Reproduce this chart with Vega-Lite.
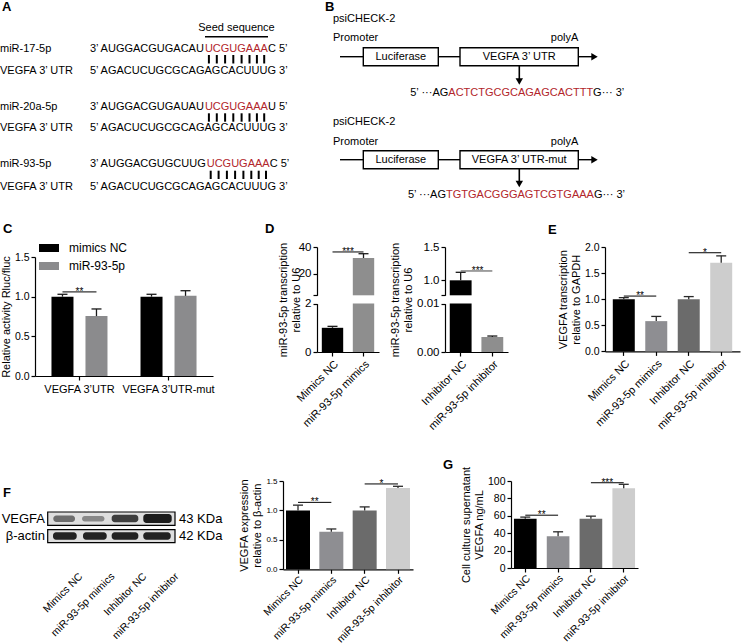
{
  "$schema": "https://vega.github.io/schema/vega-lite/v6.json",
  "background": "white",
  "padding": 0,
  "columns": 7,
  "spacing": 0,
  "bounds": "flush",
  "align": "each",
  "resolve": {"scale": {"x": "independent", "y": "independent", "color": "independent", "opacity": "independent", "shape": "independent"}},
  "config": {
    "font": "Liberation Sans",
    "view": {"stroke": null},
    "axis": {"domainColor": "#000", "domainWidth": 1.2, "tickColor": "#000", "tickWidth": 1.2, "tickSize": 4, "labelColor": "#000", "titleColor": "#000", "labelFontSize": 11, "titleFontSize": 11, "titleFontWeight": "normal", "grid": false, "labelPadding": 2, "titlePadding": 3},
    "title": {"color": "#000"}
  },
  "datasets": {
    "AB_left": [
      {"x": 0, "y": 49.3, "text": "miR-17-5p", "tone": "plain"},
      {"x": 90, "y": 49.3, "text": "3’ AUGGACGUGACAU", "tone": "plain"},
      {"x": 204.9, "y": 49.3, "text": "UCGUGAAA", "tone": "seed"},
      {"x": 267.9, "y": 49.3, "text": "C 5’", "tone": "plain"},
      {"x": 0, "y": 71, "text": "VEGFA 3’ UTR", "tone": "plain"},
      {"x": 90, "y": 71, "text": "5’ AGACUCUGCGCAGAGCACUUUG 3’", "tone": "plain"},
      {"x": 0, "y": 107.3, "text": "miR-20a-5p", "tone": "plain"},
      {"x": 90, "y": 107.3, "text": "3’ AUGGACGUGAUAU", "tone": "plain"},
      {"x": 204.9, "y": 107.3, "text": "UCGUGAAA", "tone": "seed"},
      {"x": 267.9, "y": 107.3, "text": "U 5’", "tone": "plain"},
      {"x": 0, "y": 128.3, "text": "VEGFA 3’ UTR", "tone": "plain"},
      {"x": 90, "y": 128.3, "text": "5’ AGACUCUGCGCAGAGCACUUUG 3’", "tone": "plain"},
      {"x": 0, "y": 164.3, "text": "miR-93-5p", "tone": "plain"},
      {"x": 90, "y": 164.3, "text": "3’ AUGGACGUGCUUG", "tone": "plain"},
      {"x": 206.7, "y": 164.3, "text": "UCGUGAAA", "tone": "seed"},
      {"x": 269.7, "y": 164.3, "text": "C 5’", "tone": "plain"},
      {"x": 0, "y": 186.7, "text": "VEGFA 3’ UTR", "tone": "plain"},
      {"x": 90, "y": 186.7, "text": "5’ AGACUCUGCGCAGAGCACUUUG 3’", "tone": "plain"},
      {"x": 333, "y": 19.3, "text": "psiCHECK-2", "tone": "plain"},
      {"x": 333, "y": 38.3, "text": "Promoter", "tone": "plain"},
      {"x": 448.3, "y": 92.7, "text": "ACTCTGCGCAGAGCACTTT", "tone": "seed"},
      {"x": 593.1, "y": 92.7, "text": "G··· 3’", "tone": "plain"},
      {"x": 333, "y": 122, "text": "psiCHECK-2", "tone": "plain"},
      {"x": 333, "y": 141.7, "text": "Promoter", "tone": "plain"},
      {"x": 446, "y": 195, "text": "TGTGACGGGAGTCGTGAAA", "tone": "seed"},
      {"x": 593.9, "y": 195, "text": "G··· 3’", "tone": "plain"}
    ],
    "AB_center": [
      {"x": 236.5, "y": 28.3, "text": "Seed sequence"},
      {"x": 400.8, "y": 56.7, "text": "Luciferase"},
      {"x": 519.2, "y": 56.7, "text": "VEGFA 3’ UTR"},
      {"x": 400.8, "y": 159.7, "text": "Luciferase"},
      {"x": 519.2, "y": 159.7, "text": "VEGFA 3’ UTR-mut"}
    ],
    "AB_right": [
      {"x": 578.3, "y": 38.3, "text": "polyA"},
      {"x": 448.3, "y": 92.7, "text": "5’ ···AG"},
      {"x": 578.3, "y": 141.7, "text": "polyA"},
      {"x": 446, "y": 195, "text": "5’ ···AG"}
    ],
    "AB_letters": [
      {"x": 2, "y": 7, "text": "A"},
      {"x": 325, "y": 7, "text": "B"},
      {"x": 3, "y": 229, "text": "C"},
      {"x": 265, "y": 229, "text": "D"},
      {"x": 548, "y": 230, "text": "E"}
    ],
    "AB_hlines": [
      {"x": 205, "x2": 268, "y": 36.7},
      {"x": 340, "x2": 363.3, "y": 56.7},
      {"x": 438.3, "x2": 460, "y": 56.7},
      {"x": 578.3, "x2": 592, "y": 56.7},
      {"x": 340, "x2": 363.3, "y": 159.7},
      {"x": 438.3, "x2": 460, "y": 159.7},
      {"x": 578.3, "x2": 592, "y": 159.7}
    ],
    "AB_stems": [
      {"x": 519.3, "y": 65.7, "y2": 80},
      {"x": 519.3, "y": 168.7, "y2": 182}
    ],
    "AB_pairs": [
      {"x": 208.9, "y": 55, "y2": 63.5}, {"x": 216.8, "y": 55, "y2": 63.5}, {"x": 225.1, "y": 55, "y2": 63.5}, {"x": 233.3, "y": 55, "y2": 63.5},
      {"x": 241.6, "y": 55, "y2": 63.5}, {"x": 249.5, "y": 55, "y2": 63.5}, {"x": 256.9, "y": 55, "y2": 63.5}, {"x": 264.2, "y": 55, "y2": 63.5},
      {"x": 208.9, "y": 113.3, "y2": 121.7}, {"x": 216.8, "y": 113.3, "y2": 121.7}, {"x": 225.1, "y": 113.3, "y2": 121.7}, {"x": 233.3, "y": 113.3, "y2": 121.7},
      {"x": 241.6, "y": 113.3, "y2": 121.7}, {"x": 249.5, "y": 113.3, "y2": 121.7}, {"x": 256.9, "y": 113.3, "y2": 121.7}, {"x": 264.2, "y": 113.3, "y2": 121.7},
      {"x": 210.7, "y": 170.7, "y2": 179}, {"x": 218.6, "y": 170.7, "y2": 179}, {"x": 226.9, "y": 170.7, "y2": 179}, {"x": 235.1, "y": 170.7, "y2": 179},
      {"x": 243.4, "y": 170.7, "y2": 179}, {"x": 251.3, "y": 170.7, "y2": 179}, {"x": 258.7, "y": 170.7, "y2": 179}, {"x": 266.0, "y": 170.7, "y2": 179}
    ],
    "AB_boxes": [
      {"x": 363.3, "x2": 438.3, "y": 47.7, "y2": 65.7},
      {"x": 460, "x2": 578.3, "y": 47.7, "y2": 65.7},
      {"x": 363.3, "x2": 438.3, "y": 150.7, "y2": 168.7},
      {"x": 460, "x2": 578.3, "y": 150.7, "y2": 168.7}
    ],
    "AB_heads": [
      {"x": 594.5, "y": 56.7, "dir": "right"},
      {"x": 519.3, "y": 81.5, "dir": "down"},
      {"x": 594.5, "y": 159.7, "dir": "right"},
      {"x": 519.3, "y": 184, "dir": "down"}
    ],
    "F_boxes": [
      {"x": 47.7, "x2": 175, "y": 31, "y2": 44.3},
      {"x": 47.7, "x2": 175, "y": 48.6, "y2": 61.6}
    ],
    "F_bands": [
      {"x": 53.3, "x2": 75, "y": 34.5, "y2": 41, "intensity": 0.55},
      {"x": 82, "x2": 104.5, "y": 35, "y2": 40.5, "intensity": 0.42},
      {"x": 111.7, "x2": 138.3, "y": 33.8, "y2": 41.3, "intensity": 0.78},
      {"x": 143.3, "x2": 171.7, "y": 33, "y2": 42, "intensity": 0.95},
      {"x": 53, "x2": 76.7, "y": 51.2, "y2": 58.8, "intensity": 0.92},
      {"x": 83, "x2": 106.7, "y": 51.2, "y2": 58.8, "intensity": 0.92},
      {"x": 111.7, "x2": 138.3, "y": 51.2, "y2": 58.8, "intensity": 0.92},
      {"x": 143.3, "x2": 170.7, "y": 51.2, "y2": 58.8, "intensity": 0.92}
    ],
    "F_right": [
      {"x": 45, "y": 37.6, "text": "VEGFA"},
      {"x": 45, "y": 55, "text": "β-actin"}
    ],
    "F_left": [
      {"x": 179, "y": 37.6, "text": "43 KDa"},
      {"x": 179, "y": 55, "text": "42 KDa"}
    ],
    "F_lanes": [
      {"x": 81, "y": 94, "text": "Mimics NC"},
      {"x": 113, "y": 94, "text": "miR-93-5p mimics"},
      {"x": 145, "y": 94, "text": "Inhibitor NC"},
      {"x": 177, "y": 94, "text": "miR-93-5p inhibitor"}
    ],
    "F_letter": [{"x": 3, "y": 11.8, "text": "F"}],
    "C_bars": [
      {"construct": "VEGFA 3’UTR", "treatment": "mimics NC", "value": 1.0, "upper": 1.03},
      {"construct": "VEGFA 3’UTR", "treatment": "miR-93-5p", "value": 0.755, "upper": 0.845},
      {"construct": "VEGFA 3’UTR-mut", "treatment": "mimics NC", "value": 1.0, "upper": 1.03},
      {"construct": "VEGFA 3’UTR-mut", "treatment": "miR-93-5p", "value": 1.01, "upper": 1.075}
    ],
    "C_sig": [{"construct": "VEGFA 3’UTR", "y": 1.06, "label": "**"}],
    "D_left": [
      {"group": "Mimics NC", "value": 1.0, "upper": 1.06},
      {"group": "miR-93-5p mimics", "value": 31.8, "upper": 35.0}
    ],
    "D_left_sig": [{"from": "Mimics NC", "to": "miR-93-5p mimics", "y": 36.3, "label": "***"}],
    "D_right": [
      {"group": "Inhibitor NC", "value": 1.0, "upper": 1.12},
      {"group": "miR-93-5p inhibitor", "value": 0.0031, "upper": 0.0033}
    ],
    "D_right_sig": [{"from": "Inhibitor NC", "to": "miR-93-5p inhibitor", "y": 1.14, "label": "***"}],
    "E": [
      {"group": "Mimics NC", "value": 1.0, "upper": 1.03},
      {"group": "miR-93-5p mimics", "value": 0.58, "upper": 0.67},
      {"group": "Inhibitor NC", "value": 1.0, "upper": 1.05},
      {"group": "miR-93-5p inhibitor", "value": 1.70, "upper": 1.83}
    ],
    "E_sig": [
      {"from": "Mimics NC", "to": "miR-93-5p mimics", "y": 1.06, "label": "**"},
      {"from": "Inhibitor NC", "to": "miR-93-5p inhibitor", "y": 1.89, "label": "*"}
    ],
    "F": [
      {"group": "Mimics NC", "value": 1.0, "upper": 1.09},
      {"group": "miR-93-5p mimics", "value": 0.64, "upper": 0.685},
      {"group": "Inhibitor NC", "value": 1.0, "upper": 1.06},
      {"group": "miR-93-5p inhibitor", "value": 1.38, "upper": 1.41}
    ],
    "F_sig": [
      {"from": "Mimics NC", "to": "miR-93-5p mimics", "y": 1.137, "label": "**"},
      {"from": "Inhibitor NC", "to": "miR-93-5p inhibitor", "y": 1.45, "label": "*"}
    ],
    "G": [
      {"group": "Mimics NC", "value": 56.6, "upper": 58.5},
      {"group": "miR-93-5p mimics", "value": 36.5, "upper": 41.6},
      {"group": "Inhibitor NC", "value": 56.6, "upper": 59.6},
      {"group": "miR-93-5p inhibitor", "value": 91.6, "upper": 96.2}
    ],
    "G_sig": [
      {"from": "Mimics NC", "to": "miR-93-5p mimics", "y": 60.7, "label": "**"},
      {"from": "Inhibitor NC", "to": "miR-93-5p inhibitor", "y": 98, "label": "***"}
    ]
  },
  "concat": [
    {
      "width": 35, "height": 247,
      "layer": [
        {"data": {"name": "AB_boxes"}, "mark": {"type": "rect", "fill": "white", "stroke": "black", "strokeWidth": 1.4},
         "encoding": {"x": {"field": "x", "type": "quantitative", "scale": {"domain": [0, 743], "range": [0, 743], "nice": false, "zero": false}, "axis": null}, "x2": {"field": "x2"},
                      "y": {"field": "y", "type": "quantitative", "scale": {"domain": [0, 247], "nice": false, "zero": false, "reverse": true}, "axis": null}, "y2": {"field": "y2"}}},
        {"data": {"name": "AB_hlines"}, "mark": {"type": "rule", "color": "black", "strokeWidth": 1.4},
         "encoding": {"x": {"field": "x", "type": "quantitative", "scale": {"domain": [0, 743], "range": [0, 743], "nice": false, "zero": false}, "axis": null}, "x2": {"field": "x2"},
                      "y": {"field": "y", "type": "quantitative", "scale": {"domain": [0, 247], "nice": false, "zero": false, "reverse": true}, "axis": null}}},
        {"data": {"name": "AB_stems"}, "mark": {"type": "rule", "color": "black", "strokeWidth": 1.6},
         "encoding": {"x": {"field": "x", "type": "quantitative", "scale": {"domain": [0, 743], "range": [0, 743], "nice": false, "zero": false}, "axis": null},
                      "y": {"field": "y", "type": "quantitative", "scale": {"domain": [0, 247], "nice": false, "zero": false, "reverse": true}, "axis": null}, "y2": {"field": "y2"}}},
        {"data": {"name": "AB_pairs"}, "mark": {"type": "rule", "color": "black", "strokeWidth": 2},
         "encoding": {"x": {"field": "x", "type": "quantitative", "scale": {"domain": [0, 743], "range": [0, 743], "nice": false, "zero": false}, "axis": null},
                      "y": {"field": "y", "type": "quantitative", "scale": {"domain": [0, 247], "nice": false, "zero": false, "reverse": true}, "axis": null}, "y2": {"field": "y2"}}},
        {"data": {"name": "AB_heads"}, "mark": {"type": "point", "filled": true, "color": "black", "opacity": 1, "size": 55},
         "encoding": {"x": {"field": "x", "type": "quantitative", "scale": {"domain": [0, 743], "range": [0, 743], "nice": false, "zero": false}, "axis": null},
                      "y": {"field": "y", "type": "quantitative", "scale": {"domain": [0, 247], "nice": false, "zero": false, "reverse": true}, "axis": null},
                      "shape": {"field": "dir", "type": "nominal", "scale": {"domain": ["right", "down"], "range": ["triangle-right", "triangle-down"]}, "legend": null}}},
        {"data": {"name": "AB_left"}, "mark": {"type": "text", "align": "left", "baseline": "middle", "fontSize": 11},
         "encoding": {"x": {"field": "x", "type": "quantitative", "scale": {"domain": [0, 743], "range": [0, 743], "nice": false, "zero": false}, "axis": null},
                      "y": {"field": "y", "type": "quantitative", "scale": {"domain": [0, 247], "nice": false, "zero": false, "reverse": true}, "axis": null},
                      "text": {"field": "text"},
                      "color": {"field": "tone", "type": "nominal", "scale": {"domain": ["plain", "seed"], "range": ["#000000", "#b2262b"]}, "legend": null}}},
        {"data": {"name": "AB_center"}, "mark": {"type": "text", "align": "center", "baseline": "middle", "fontSize": 11, "color": "#000"},
         "encoding": {"x": {"field": "x", "type": "quantitative", "scale": {"domain": [0, 743], "range": [0, 743], "nice": false, "zero": false}, "axis": null},
                      "y": {"field": "y", "type": "quantitative", "scale": {"domain": [0, 247], "nice": false, "zero": false, "reverse": true}, "axis": null},
                      "text": {"field": "text"}}},
        {"data": {"name": "AB_right"}, "mark": {"type": "text", "align": "right", "baseline": "middle", "fontSize": 11, "color": "#000"},
         "encoding": {"x": {"field": "x", "type": "quantitative", "scale": {"domain": [0, 743], "range": [0, 743], "nice": false, "zero": false}, "axis": null},
                      "y": {"field": "y", "type": "quantitative", "scale": {"domain": [0, 247], "nice": false, "zero": false, "reverse": true}, "axis": null},
                      "text": {"field": "text"}}},
        {"data": {"name": "AB_letters"}, "mark": {"type": "text", "align": "left", "baseline": "middle", "fontSize": 13, "fontWeight": "bold", "color": "#000"},
         "encoding": {"x": {"field": "x", "type": "quantitative", "scale": {"domain": [0, 743], "range": [0, 743], "nice": false, "zero": false}, "axis": null},
                      "y": {"field": "y", "type": "quantitative", "scale": {"domain": [0, 247], "nice": false, "zero": false, "reverse": true}, "axis": null},
                      "text": {"field": "text"}}}
      ]
    },
    {"width": 248, "height": 0, "data": {"values": [{}]}, "mark": {"type": "point", "opacity": 0}, "encoding": {}},
    {"width": 34, "height": 0, "data": {"values": [{}]}, "mark": {"type": "point", "opacity": 0}, "encoding": {}},
    {"width": 128, "height": 0, "data": {"values": [{}]}, "mark": {"type": "point", "opacity": 0}, "encoding": {}},
    {"width": 66, "height": 0, "data": {"values": [{}]}, "mark": {"type": "point", "opacity": 0}, "encoding": {}},
    {"width": 94, "height": 0, "data": {"values": [{}]}, "mark": {"type": "point", "opacity": 0}, "encoding": {}},
    {"width": 138, "height": 0, "data": {"values": [{}]}, "mark": {"type": "point", "opacity": 0}, "encoding": {}},

    {"width": 35, "height": 233.7, "data": {"values": [{}]}, "mark": {"type": "point", "opacity": 0}, "encoding": {}},
    {
      "width": 248, "height": 129,
      "data": {"name": "C_bars"},
      "layer": [
        {"mark": {"type": "bar"},
         "encoding": {
           "x": {"field": "construct", "type": "nominal", "scale": {"domain": ["VEGFA 3’UTR", "VEGFA 3’UTR-mut"], "range": [0, 178], "paddingInner": 0.371, "paddingOuter": 0.185}, "axis": {"title": null, "labelAngle": 0, "labelFontSize": 11, "labelPadding": 3}},
           "xOffset": {"field": "treatment", "type": "nominal", "scale": {"domain": ["mimics NC", "miR-93-5p"], "paddingInner": 0.353, "paddingOuter": 0}},
           "y": {"field": "value", "type": "quantitative", "scale": {"domain": [0, 1.5], "range": [129, 10], "nice": false}, "axis": {"values": [0, 0.5, 1, 1.5], "format": ".1f", "title": "Relative activity Rluc/fluc", "labelFontSize": 10.5}},
           "color": {"field": "treatment", "type": "nominal", "scale": {"domain": ["mimics NC", "miR-93-5p"], "range": ["#000000", "#8b8b8d"]},
                     "legend": {"title": null, "orient": "none", "legendX": 8, "legendY": -5, "symbolType": "M-2,-0.8L2,-0.8L2,0.8L-2,0.8Z", "symbolSize": 100, "symbolStrokeWidth": 0, "symbolOpacity": 1, "labelFontSize": 12, "labelOffset": 14, "rowPadding": 6, "padding": 0}}
         }},
        {"mark": {"type": "rule", "color": "#1a1a1a", "strokeWidth": 1.3},
         "encoding": {
           "x": {"field": "construct", "type": "nominal", "scale": {"domain": ["VEGFA 3’UTR", "VEGFA 3’UTR-mut"], "range": [0, 178], "paddingInner": 0.371, "paddingOuter": 0.185}, "axis": {"title": null, "labelAngle": 0, "labelFontSize": 11, "labelPadding": 3}},
           "xOffset": {"field": "treatment", "type": "nominal", "scale": {"domain": ["mimics NC", "miR-93-5p"], "paddingInner": 0.353, "paddingOuter": 0}},
           "y": {"field": "value", "type": "quantitative", "scale": {"domain": [0, 1.5], "range": [129, 10], "nice": false}, "axis": {"values": [0, 0.5, 1, 1.5], "format": ".1f", "title": "Relative activity Rluc/fluc", "labelFontSize": 10.5}},
           "y2": {"field": "upper"}
         }},
        {"mark": {"type": "tick", "color": "#1a1a1a", "thickness": 1.3, "size": 10, "opacity": 1},
         "encoding": {
           "x": {"field": "construct", "type": "nominal", "scale": {"domain": ["VEGFA 3’UTR", "VEGFA 3’UTR-mut"], "range": [0, 178], "paddingInner": 0.371, "paddingOuter": 0.185}, "axis": {"title": null, "labelAngle": 0, "labelFontSize": 11, "labelPadding": 3}},
           "xOffset": {"field": "treatment", "type": "nominal", "scale": {"domain": ["mimics NC", "miR-93-5p"], "paddingInner": 0.353, "paddingOuter": 0}},
           "y": {"field": "upper", "type": "quantitative", "scale": {"domain": [0, 1.5], "range": [129, 10], "nice": false}, "axis": {"values": [0, 0.5, 1, 1.5], "format": ".1f", "title": "Relative activity Rluc/fluc", "labelFontSize": 10.5}}
         }},
        {"data": {"name": "C_sig"}, "mark": {"type": "rule", "color": "#000", "strokeWidth": 1, "xOffset": -17, "x2Offset": 17},
         "encoding": {
           "x": {"field": "construct", "type": "nominal", "scale": {"domain": ["VEGFA 3’UTR", "VEGFA 3’UTR-mut"], "range": [0, 178], "paddingInner": 0.371, "paddingOuter": 0.185}, "axis": {"title": null, "labelAngle": 0, "labelFontSize": 11, "labelPadding": 3}},
           "x2": {"field": "construct"},
           "y": {"field": "y", "type": "quantitative", "scale": {"domain": [0, 1.5], "range": [129, 10], "nice": false}, "axis": {"values": [0, 0.5, 1, 1.5], "format": ".1f", "title": "Relative activity Rluc/fluc", "labelFontSize": 10.5}}
         }},
        {"data": {"name": "C_sig"}, "mark": {"type": "text", "fontSize": 10, "baseline": "alphabetic", "dy": 3, "color": "#000"},
         "encoding": {
           "x": {"field": "construct", "type": "nominal", "scale": {"domain": ["VEGFA 3’UTR", "VEGFA 3’UTR-mut"], "range": [0, 178], "paddingInner": 0.371, "paddingOuter": 0.185}, "axis": {"title": null, "labelAngle": 0, "labelFontSize": 11, "labelPadding": 3}},
           "y": {"field": "y", "type": "quantitative", "scale": {"domain": [0, 1.5], "range": [129, 10], "nice": false}, "axis": {"values": [0, 0.5, 1, 1.5], "format": ".1f", "title": "Relative activity Rluc/fluc", "labelFontSize": 10.5}},
           "text": {"field": "label"}
         }}
      ]
    },
    {"width": 34, "height": 1, "data": {"values": [{}]}, "mark": {"type": "point", "opacity": 0}, "encoding": {}},
    {
      "width": 128, "height": 105,
      "data": {"name": "D_left"},
      "resolve": {"scale": {"y": "independent"}},
      "layer": [
        {"layer": [
          {"mark": {"type": "bar"},
           "encoding": {
             "x": {"field": "group", "type": "nominal", "scale": {"domain": ["Mimics NC", "miR-93-5p mimics"], "range": [0, 62], "paddingInner": 0.31, "paddingOuter": 0.155}, "axis": {"title": null, "labelAngle": -45}},
             "y": {"field": "value", "type": "quantitative", "scale": {"domain": [0, 2], "range": [105, 56.6], "nice": false, "clamp": true}, "axis": {"orient": "left", "values": [0, 1, 2], "format": "d", "title": ["miR-93-5p transcription", "relative to U6"], "titleY": 52.5, "labelFontSize": 11.5}},
             "color": {"field": "group", "type": "nominal", "scale": {"domain": ["Mimics NC", "miR-93-5p mimics"], "range": ["#000000", "#8e8e8e"]}, "legend": null}
           }},
          {"transform": [{"filter": "datum.upper < 2"}], "mark": {"type": "rule", "color": "#1a1a1a", "strokeWidth": 1.3},
           "encoding": {
             "x": {"field": "group", "type": "nominal", "scale": {"domain": ["Mimics NC", "miR-93-5p mimics"], "range": [0, 62], "paddingInner": 0.31, "paddingOuter": 0.155}, "axis": {"title": null, "labelAngle": -45}},
             "y": {"field": "value", "type": "quantitative", "scale": {"domain": [0, 2], "range": [105, 56.6], "nice": false, "clamp": true}, "axis": {"orient": "left", "values": [0, 1, 2], "format": "d", "title": ["miR-93-5p transcription", "relative to U6"], "titleY": 52.5, "labelFontSize": 11.5}},
             "y2": {"field": "upper"}
           }},
          {"transform": [{"filter": "datum.upper < 2"}], "mark": {"type": "tick", "color": "#1a1a1a", "thickness": 1.3, "size": 10, "opacity": 1},
           "encoding": {
             "x": {"field": "group", "type": "nominal", "scale": {"domain": ["Mimics NC", "miR-93-5p mimics"], "range": [0, 62], "paddingInner": 0.31, "paddingOuter": 0.155}, "axis": {"title": null, "labelAngle": -45}},
             "y": {"field": "upper", "type": "quantitative", "scale": {"domain": [0, 2], "range": [105, 56.6], "nice": false, "clamp": true}, "axis": {"orient": "left", "values": [0, 1, 2], "format": "d", "title": ["miR-93-5p transcription", "relative to U6"], "titleY": 52.5, "labelFontSize": 11.5}}
           }}
        ]},
        {"layer": [
          {"mark": {"type": "bar"},
           "encoding": {
             "x": {"field": "group", "type": "nominal", "scale": {"domain": ["Mimics NC", "miR-93-5p mimics"], "range": [0, 62], "paddingInner": 0.31, "paddingOuter": 0.155}, "axis": {"title": null, "labelAngle": -45}},
             "y": {"field": "value", "type": "quantitative", "scale": {"domain": [4, 40], "range": [48.3, 0], "nice": false, "zero": false, "clamp": true}, "axis": {"orient": "left", "values": [4, 20, 40], "labelExpr": "datum.value == 4 ? '' : datum.label", "title": null, "labelFontSize": 11.5}},
             "color": {"field": "group", "type": "nominal", "scale": {"domain": ["Mimics NC", "miR-93-5p mimics"], "range": ["#000000", "#8e8e8e"]}, "legend": null}
           }},
          {"transform": [{"filter": "datum.upper > 4"}], "mark": {"type": "rule", "color": "#1a1a1a", "strokeWidth": 1.3},
           "encoding": {
             "x": {"field": "group", "type": "nominal", "scale": {"domain": ["Mimics NC", "miR-93-5p mimics"], "range": [0, 62], "paddingInner": 0.31, "paddingOuter": 0.155}, "axis": {"title": null, "labelAngle": -45}},
             "y": {"field": "value", "type": "quantitative", "scale": {"domain": [4, 40], "range": [48.3, 0], "nice": false, "zero": false, "clamp": true}, "axis": {"orient": "left", "values": [4, 20, 40], "labelExpr": "datum.value == 4 ? '' : datum.label", "title": null, "labelFontSize": 11.5}},
             "y2": {"field": "upper"}
           }},
          {"transform": [{"filter": "datum.upper > 4"}], "mark": {"type": "tick", "color": "#1a1a1a", "thickness": 1.3, "size": 10, "opacity": 1},
           "encoding": {
             "x": {"field": "group", "type": "nominal", "scale": {"domain": ["Mimics NC", "miR-93-5p mimics"], "range": [0, 62], "paddingInner": 0.31, "paddingOuter": 0.155}, "axis": {"title": null, "labelAngle": -45}},
             "y": {"field": "upper", "type": "quantitative", "scale": {"domain": [4, 40], "range": [48.3, 0], "nice": false, "zero": false, "clamp": true}, "axis": {"orient": "left", "values": [4, 20, 40], "labelExpr": "datum.value == 4 ? '' : datum.label", "title": null, "labelFontSize": 11.5}}
           }},
          {"data": {"name": "D_left_sig"}, "mark": {"type": "rule", "color": "#000", "strokeWidth": 1},
           "encoding": {
             "x": {"field": "from", "type": "nominal", "scale": {"domain": ["Mimics NC", "miR-93-5p mimics"], "range": [0, 62], "paddingInner": 0.31, "paddingOuter": 0.155}, "axis": {"title": null, "labelAngle": -45}},
             "x2": {"field": "to"},
             "y": {"field": "y", "type": "quantitative", "scale": {"domain": [4, 40], "range": [48.3, 0], "nice": false, "zero": false, "clamp": true}, "axis": {"orient": "left", "values": [4, 20, 40], "labelExpr": "datum.value == 4 ? '' : datum.label", "title": null, "labelFontSize": 11.5}}
           }},
          {"data": {"name": "D_left_sig"}, "mark": {"type": "text", "fontSize": 10, "baseline": "alphabetic", "dy": 3, "dx": 15.5, "color": "#000"},
           "encoding": {
             "x": {"field": "from", "type": "nominal", "scale": {"domain": ["Mimics NC", "miR-93-5p mimics"], "range": [0, 62], "paddingInner": 0.31, "paddingOuter": 0.155}, "axis": {"title": null, "labelAngle": -45}},
             "y": {"field": "y", "type": "quantitative", "scale": {"domain": [4, 40], "range": [48.3, 0], "nice": false, "zero": false, "clamp": true}, "axis": {"orient": "left", "values": [4, 20, 40], "labelExpr": "datum.value == 4 ? '' : datum.label", "title": null, "labelFontSize": 11.5}},
             "text": {"field": "label"}
           }}
        ]}
      ]
    },
    {
      "width": 66, "height": 105,
      "data": {"name": "D_right"},
      "resolve": {"scale": {"y": "independent"}},
      "layer": [
        {"layer": [
          {"mark": {"type": "bar"},
           "encoding": {
             "x": {"field": "group", "type": "nominal", "scale": {"domain": ["Inhibitor NC", "miR-93-5p inhibitor"], "range": [0, 63], "paddingInner": 0.31, "paddingOuter": 0.15}, "axis": {"title": null, "labelAngle": -45}},
             "y": {"field": "value", "type": "quantitative", "scale": {"domain": [0, 0.01], "range": [105, 56.6], "nice": false, "clamp": true}, "axis": {"orient": "left", "values": [0, 0.01], "format": ".2f", "title": ["miR-93-5p transcription", "relative to U6"], "titleY": 52.5, "labelFontSize": 11.5}},
             "color": {"field": "group", "type": "nominal", "scale": {"domain": ["Inhibitor NC", "miR-93-5p inhibitor"], "range": ["#000000", "#8e8e8e"]}, "legend": null}
           }},
          {"transform": [{"filter": "datum.upper < 0.01"}], "mark": {"type": "rule", "color": "#1a1a1a", "strokeWidth": 1.3},
           "encoding": {
             "x": {"field": "group", "type": "nominal", "scale": {"domain": ["Inhibitor NC", "miR-93-5p inhibitor"], "range": [0, 63], "paddingInner": 0.31, "paddingOuter": 0.15}, "axis": {"title": null, "labelAngle": -45}},
             "y": {"field": "value", "type": "quantitative", "scale": {"domain": [0, 0.01], "range": [105, 56.6], "nice": false, "clamp": true}, "axis": {"orient": "left", "values": [0, 0.01], "format": ".2f", "title": ["miR-93-5p transcription", "relative to U6"], "titleY": 52.5, "labelFontSize": 11.5}},
             "y2": {"field": "upper"}
           }},
          {"transform": [{"filter": "datum.upper < 0.01"}], "mark": {"type": "tick", "color": "#1a1a1a", "thickness": 1.3, "size": 10, "opacity": 1},
           "encoding": {
             "x": {"field": "group", "type": "nominal", "scale": {"domain": ["Inhibitor NC", "miR-93-5p inhibitor"], "range": [0, 63], "paddingInner": 0.31, "paddingOuter": 0.15}, "axis": {"title": null, "labelAngle": -45}},
             "y": {"field": "upper", "type": "quantitative", "scale": {"domain": [0, 0.01], "range": [105, 56.6], "nice": false, "clamp": true}, "axis": {"orient": "left", "values": [0, 0.01], "format": ".2f", "title": ["miR-93-5p transcription", "relative to U6"], "titleY": 52.5, "labelFontSize": 11.5}}
           }}
        ]},
        {"layer": [
          {"mark": {"type": "bar"},
           "encoding": {
             "x": {"field": "group", "type": "nominal", "scale": {"domain": ["Inhibitor NC", "miR-93-5p inhibitor"], "range": [0, 63], "paddingInner": 0.31, "paddingOuter": 0.15}, "axis": {"title": null, "labelAngle": -45}},
             "y": {"field": "value", "type": "quantitative", "scale": {"domain": [0.775, 1.5], "range": [48.3, 0], "nice": false, "zero": false, "clamp": true}, "axis": {"orient": "left", "values": [0.775, 1, 1.5], "format": ".1f", "labelExpr": "datum.value < 0.8 ? '' : datum.label", "title": null, "labelFontSize": 11.5}},
             "color": {"field": "group", "type": "nominal", "scale": {"domain": ["Inhibitor NC", "miR-93-5p inhibitor"], "range": ["#000000", "#8e8e8e"]}, "legend": null}
           }},
          {"transform": [{"filter": "datum.upper > 0.775"}], "mark": {"type": "rule", "color": "#1a1a1a", "strokeWidth": 1.3},
           "encoding": {
             "x": {"field": "group", "type": "nominal", "scale": {"domain": ["Inhibitor NC", "miR-93-5p inhibitor"], "range": [0, 63], "paddingInner": 0.31, "paddingOuter": 0.15}, "axis": {"title": null, "labelAngle": -45}},
             "y": {"field": "value", "type": "quantitative", "scale": {"domain": [0.775, 1.5], "range": [48.3, 0], "nice": false, "zero": false, "clamp": true}, "axis": {"orient": "left", "values": [0.775, 1, 1.5], "format": ".1f", "labelExpr": "datum.value < 0.8 ? '' : datum.label", "title": null, "labelFontSize": 11.5}},
             "y2": {"field": "upper"}
           }},
          {"transform": [{"filter": "datum.upper > 0.775"}], "mark": {"type": "tick", "color": "#1a1a1a", "thickness": 1.3, "size": 10, "opacity": 1},
           "encoding": {
             "x": {"field": "group", "type": "nominal", "scale": {"domain": ["Inhibitor NC", "miR-93-5p inhibitor"], "range": [0, 63], "paddingInner": 0.31, "paddingOuter": 0.15}, "axis": {"title": null, "labelAngle": -45}},
             "y": {"field": "upper", "type": "quantitative", "scale": {"domain": [0.775, 1.5], "range": [48.3, 0], "nice": false, "zero": false, "clamp": true}, "axis": {"orient": "left", "values": [0.775, 1, 1.5], "format": ".1f", "labelExpr": "datum.value < 0.8 ? '' : datum.label", "title": null, "labelFontSize": 11.5}}
           }},
          {"data": {"name": "D_right_sig"}, "mark": {"type": "rule", "color": "#444", "strokeWidth": 1},
           "encoding": {
             "x": {"field": "from", "type": "nominal", "scale": {"domain": ["Inhibitor NC", "miR-93-5p inhibitor"], "range": [0, 63], "paddingInner": 0.31, "paddingOuter": 0.15}, "axis": {"title": null, "labelAngle": -45}},
             "x2": {"field": "to"},
             "y": {"field": "y", "type": "quantitative", "scale": {"domain": [0.775, 1.5], "range": [48.3, 0], "nice": false, "zero": false, "clamp": true}, "axis": {"orient": "left", "values": [0.775, 1, 1.5], "format": ".1f", "labelExpr": "datum.value < 0.8 ? '' : datum.label", "title": null, "labelFontSize": 11.5}}
           }},
          {"data": {"name": "D_right_sig"}, "mark": {"type": "text", "fontSize": 10, "baseline": "alphabetic", "dy": 3, "dx": 17, "color": "#000"},
           "encoding": {
             "x": {"field": "from", "type": "nominal", "scale": {"domain": ["Inhibitor NC", "miR-93-5p inhibitor"], "range": [0, 63], "paddingInner": 0.31, "paddingOuter": 0.15}, "axis": {"title": null, "labelAngle": -45}},
             "y": {"field": "y", "type": "quantitative", "scale": {"domain": [0.775, 1.5], "range": [48.3, 0], "nice": false, "zero": false, "clamp": true}, "axis": {"orient": "left", "values": [0.775, 1, 1.5], "format": ".1f", "labelExpr": "datum.value < 0.8 ? '' : datum.label", "title": null, "labelFontSize": 11.5}},
             "text": {"field": "label"}
           }}
        ]}
      ]
    },
    {"width": 94, "height": 1, "data": {"values": [{}]}, "mark": {"type": "point", "opacity": 0}, "encoding": {}},
    {
      "width": 138, "height": 104.4,
      "data": {"name": "E"},
      "layer": [
        {"mark": {"type": "bar"},
         "encoding": {
           "x": {"field": "group", "type": "nominal", "scale": {"domain": ["Mimics NC", "miR-93-5p mimics", "Inhibitor NC", "miR-93-5p inhibitor"], "range": [0, 135], "paddingInner": 0.323, "paddingOuter": 0.24}, "axis": {"title": null, "labelAngle": -45}},
           "y": {"field": "value", "type": "quantitative", "scale": {"domain": [0, 2], "nice": false}, "axis": {"values": [0, 0.5, 1, 1.5, 2], "format": ".1f", "title": ["VEGFA transcription", "relative to GAPDH"], "labelFontSize": 10.5}},
           "color": {"field": "group", "type": "nominal", "scale": {"domain": ["Mimics NC", "miR-93-5p mimics", "Inhibitor NC", "miR-93-5p inhibitor"], "range": ["#000000", "#8e8e92", "#6b6b6b", "#cdcdcd"]}, "legend": null}
         }},
        {"mark": {"type": "rule", "color": "#2a2a2a", "strokeWidth": 1.3},
         "encoding": {
           "x": {"field": "group", "type": "nominal", "scale": {"domain": ["Mimics NC", "miR-93-5p mimics", "Inhibitor NC", "miR-93-5p inhibitor"], "range": [0, 135], "paddingInner": 0.323, "paddingOuter": 0.24}, "axis": {"title": null, "labelAngle": -45}},
           "y": {"field": "value", "type": "quantitative", "scale": {"domain": [0, 2], "nice": false}, "axis": {"values": [0, 0.5, 1, 1.5, 2], "format": ".1f", "title": ["VEGFA transcription", "relative to GAPDH"], "labelFontSize": 10.5}},
           "y2": {"field": "upper"}
         }},
        {"mark": {"type": "tick", "color": "#2a2a2a", "thickness": 1.3, "size": 10, "opacity": 1},
         "encoding": {
           "x": {"field": "group", "type": "nominal", "scale": {"domain": ["Mimics NC", "miR-93-5p mimics", "Inhibitor NC", "miR-93-5p inhibitor"], "range": [0, 135], "paddingInner": 0.323, "paddingOuter": 0.24}, "axis": {"title": null, "labelAngle": -45}},
           "y": {"field": "upper", "type": "quantitative", "scale": {"domain": [0, 2], "nice": false}, "axis": {"values": [0, 0.5, 1, 1.5, 2], "format": ".1f", "title": ["VEGFA transcription", "relative to GAPDH"], "labelFontSize": 10.5}}
         }},
        {"data": {"name": "E_sig"}, "mark": {"type": "rule", "color": "#000", "strokeWidth": 1},
         "encoding": {
           "x": {"field": "from", "type": "nominal", "scale": {"domain": ["Mimics NC", "miR-93-5p mimics", "Inhibitor NC", "miR-93-5p inhibitor"], "range": [0, 135], "paddingInner": 0.323, "paddingOuter": 0.24}, "axis": {"title": null, "labelAngle": -45}},
           "x2": {"field": "to"},
           "y": {"field": "y", "type": "quantitative", "scale": {"domain": [0, 2], "nice": false}, "axis": {"values": [0, 0.5, 1, 1.5, 2], "format": ".1f", "title": ["VEGFA transcription", "relative to GAPDH"], "labelFontSize": 10.5}}
         }},
        {"data": {"name": "E_sig"}, "mark": {"type": "text", "fontSize": 10, "baseline": "alphabetic", "dy": 3, "dx": 16.3, "color": "#000"},
         "encoding": {
           "x": {"field": "from", "type": "nominal", "scale": {"domain": ["Mimics NC", "miR-93-5p mimics", "Inhibitor NC", "miR-93-5p inhibitor"], "range": [0, 135], "paddingInner": 0.323, "paddingOuter": 0.24}, "axis": {"title": null, "labelAngle": -45}},
           "y": {"field": "y", "type": "quantitative", "scale": {"domain": [0, 2], "nice": false}, "axis": {"values": [0, 0.5, 1, 1.5, 2], "format": ".1f", "title": ["VEGFA transcription", "relative to GAPDH"], "labelFontSize": 10.5}},
           "text": {"field": "label"}
         }}
      ]
    },

    {
      "width": 35, "height": 163.3,
      "layer": [
        {"data": {"name": "F_boxes"}, "mark": {"type": "rect", "fill": "#dedede", "stroke": "black", "strokeWidth": 1.2},
         "encoding": {"x": {"field": "x", "type": "quantitative", "scale": {"domain": [0, 283], "range": [0, 283], "nice": false, "zero": false}, "axis": null}, "x2": {"field": "x2"},
                      "y": {"field": "y", "type": "quantitative", "scale": {"domain": [0, 163.3], "nice": false, "zero": false, "reverse": true}, "axis": null}, "y2": {"field": "y2"}}},
        {"data": {"name": "F_bands"}, "mark": {"type": "rect", "fill": "#111111", "cornerRadius": 3},
         "encoding": {"x": {"field": "x", "type": "quantitative", "scale": {"domain": [0, 283], "range": [0, 283], "nice": false, "zero": false}, "axis": null}, "x2": {"field": "x2"},
                      "y": {"field": "y", "type": "quantitative", "scale": {"domain": [0, 163.3], "nice": false, "zero": false, "reverse": true}, "axis": null}, "y2": {"field": "y2"},
                      "opacity": {"field": "intensity", "type": "quantitative", "scale": null}}},
        {"data": {"name": "F_right"}, "mark": {"type": "text", "align": "right", "baseline": "middle", "fontSize": 13, "color": "#000"},
         "encoding": {"x": {"field": "x", "type": "quantitative", "scale": {"domain": [0, 283], "range": [0, 283], "nice": false, "zero": false}, "axis": null},
                      "y": {"field": "y", "type": "quantitative", "scale": {"domain": [0, 163.3], "nice": false, "zero": false, "reverse": true}, "axis": null},
                      "text": {"field": "text"}}},
        {"data": {"name": "F_left"}, "mark": {"type": "text", "align": "left", "baseline": "middle", "fontSize": 13, "color": "#000"},
         "encoding": {"x": {"field": "x", "type": "quantitative", "scale": {"domain": [0, 283], "range": [0, 283], "nice": false, "zero": false}, "axis": null},
                      "y": {"field": "y", "type": "quantitative", "scale": {"domain": [0, 163.3], "nice": false, "zero": false, "reverse": true}, "axis": null},
                      "text": {"field": "text"}}},
        {"data": {"name": "F_lanes"}, "mark": {"type": "text", "align": "right", "baseline": "middle", "fontSize": 10.5, "angle": 315, "color": "#000"},
         "encoding": {"x": {"field": "x", "type": "quantitative", "scale": {"domain": [0, 283], "range": [0, 283], "nice": false, "zero": false}, "axis": null},
                      "y": {"field": "y", "type": "quantitative", "scale": {"domain": [0, 163.3], "nice": false, "zero": false, "reverse": true}, "axis": null},
                      "text": {"field": "text"}}},
        {"data": {"name": "F_letter"}, "mark": {"type": "text", "align": "left", "baseline": "middle", "fontSize": 13, "fontWeight": "bold", "color": "#000"},
         "encoding": {"x": {"field": "x", "type": "quantitative", "scale": {"domain": [0, 283], "range": [0, 283], "nice": false, "zero": false}, "axis": null},
                      "y": {"field": "y", "type": "quantitative", "scale": {"domain": [0, 163.3], "nice": false, "zero": false, "reverse": true}, "axis": null},
                      "text": {"field": "text"}}}
      ]
    },
    {"width": 248, "height": 1, "data": {"values": [{}]}, "mark": {"type": "point", "opacity": 0}, "encoding": {}},
    {
      "width": 34, "height": 88.3,
      "data": {"name": "F"},
      "layer": [
        {"mark": {"type": "bar"},
         "encoding": {
           "x": {"field": "group", "type": "nominal", "scale": {"domain": ["Mimics NC", "miR-93-5p mimics", "Inhibitor NC", "miR-93-5p inhibitor"], "range": [0, 130], "paddingInner": 0.28, "paddingOuter": 0.09}, "axis": {"title": null, "labelAngle": -45, "labelFontSize": 10.5, "labelPadding": 1}},
           "y": {"field": "value", "type": "quantitative", "scale": {"domain": [0, 1.5], "nice": false}, "axis": {"values": [0, 0.5, 1, 1.5], "format": ".1f", "title": ["VEGFA expression", "relative to β-actin"], "labelFontSize": 8}},
           "color": {"field": "group", "type": "nominal", "scale": {"domain": ["Mimics NC", "miR-93-5p mimics", "Inhibitor NC", "miR-93-5p inhibitor"], "range": ["#000000", "#8e8e92", "#6b6b6b", "#cdcdcd"]}, "legend": null}
         }},
        {"mark": {"type": "rule", "color": "#2a2a2a", "strokeWidth": 1.3},
         "encoding": {
           "x": {"field": "group", "type": "nominal", "scale": {"domain": ["Mimics NC", "miR-93-5p mimics", "Inhibitor NC", "miR-93-5p inhibitor"], "range": [0, 130], "paddingInner": 0.28, "paddingOuter": 0.09}, "axis": {"title": null, "labelAngle": -45, "labelFontSize": 10.5, "labelPadding": 1}},
           "y": {"field": "value", "type": "quantitative", "scale": {"domain": [0, 1.5], "nice": false}, "axis": {"values": [0, 0.5, 1, 1.5], "format": ".1f", "title": ["VEGFA expression", "relative to β-actin"], "labelFontSize": 8}},
           "y2": {"field": "upper"}
         }},
        {"mark": {"type": "tick", "color": "#2a2a2a", "thickness": 1.3, "size": 10, "opacity": 1},
         "encoding": {
           "x": {"field": "group", "type": "nominal", "scale": {"domain": ["Mimics NC", "miR-93-5p mimics", "Inhibitor NC", "miR-93-5p inhibitor"], "range": [0, 130], "paddingInner": 0.28, "paddingOuter": 0.09}, "axis": {"title": null, "labelAngle": -45, "labelFontSize": 10.5, "labelPadding": 1}},
           "y": {"field": "upper", "type": "quantitative", "scale": {"domain": [0, 1.5], "nice": false}, "axis": {"values": [0, 0.5, 1, 1.5], "format": ".1f", "title": ["VEGFA expression", "relative to β-actin"], "labelFontSize": 8}}
         }},
        {"data": {"name": "F_sig"}, "mark": {"type": "rule", "color": "#000", "strokeWidth": 1},
         "encoding": {
           "x": {"field": "from", "type": "nominal", "scale": {"domain": ["Mimics NC", "miR-93-5p mimics", "Inhibitor NC", "miR-93-5p inhibitor"], "range": [0, 130], "paddingInner": 0.28, "paddingOuter": 0.09}, "axis": {"title": null, "labelAngle": -45, "labelFontSize": 10.5, "labelPadding": 1}},
           "x2": {"field": "to"},
           "y": {"field": "y", "type": "quantitative", "scale": {"domain": [0, 1.5], "nice": false}, "axis": {"values": [0, 0.5, 1, 1.5], "format": ".1f", "title": ["VEGFA expression", "relative to β-actin"], "labelFontSize": 8}}
         }},
        {"data": {"name": "F_sig"}, "mark": {"type": "text", "fontSize": 10, "baseline": "alphabetic", "dy": 3, "dx": 16.7, "color": "#000"},
         "encoding": {
           "x": {"field": "from", "type": "nominal", "scale": {"domain": ["Mimics NC", "miR-93-5p mimics", "Inhibitor NC", "miR-93-5p inhibitor"], "range": [0, 130], "paddingInner": 0.28, "paddingOuter": 0.09}, "axis": {"title": null, "labelAngle": -45, "labelFontSize": 10.5, "labelPadding": 1}},
           "y": {"field": "y", "type": "quantitative", "scale": {"domain": [0, 1.5], "nice": false}, "axis": {"values": [0, 0.5, 1, 1.5], "format": ".1f", "title": ["VEGFA expression", "relative to β-actin"], "labelFontSize": 8}},
           "text": {"field": "label"}
         }}
      ]
    },
    {"width": 128, "height": 1, "data": {"values": [{}]}, "mark": {"type": "point", "opacity": 0}, "encoding": {}},
    {"width": 66, "height": 1, "data": {"values": [{}]}, "mark": {"type": "point", "opacity": 0}, "encoding": {}},
    {
      "width": 94, "height": 87,
      "title": {"text": "G", "anchor": "start", "frame": "group", "dx": -68, "dy": 16, "offset": 10, "fontSize": 13, "fontWeight": "bold"},
      "data": {"name": "G"},
      "layer": [
        {"mark": {"type": "bar"},
         "encoding": {
           "x": {"field": "group", "type": "nominal", "scale": {"domain": ["Mimics NC", "miR-93-5p mimics", "Inhibitor NC", "miR-93-5p inhibitor"], "range": [0, 127], "paddingInner": 0.31, "paddingOuter": 0.09}, "axis": {"title": null, "labelAngle": -45, "labelFontSize": 10.5, "labelPadding": 1}},
           "y": {"field": "value", "type": "quantitative", "scale": {"domain": [0, 100], "nice": false}, "axis": {"values": [0, 20, 40, 60, 80, 100], "title": ["Cell culture supernatant", "VEGFA ng/mL"], "labelFontSize": 10.5}},
           "color": {"field": "group", "type": "nominal", "scale": {"domain": ["Mimics NC", "miR-93-5p mimics", "Inhibitor NC", "miR-93-5p inhibitor"], "range": ["#000000", "#8e8e92", "#6b6b6b", "#cdcdcd"]}, "legend": null}
         }},
        {"mark": {"type": "rule", "color": "#2a2a2a", "strokeWidth": 1.3},
         "encoding": {
           "x": {"field": "group", "type": "nominal", "scale": {"domain": ["Mimics NC", "miR-93-5p mimics", "Inhibitor NC", "miR-93-5p inhibitor"], "range": [0, 127], "paddingInner": 0.31, "paddingOuter": 0.09}, "axis": {"title": null, "labelAngle": -45, "labelFontSize": 10.5, "labelPadding": 1}},
           "y": {"field": "value", "type": "quantitative", "scale": {"domain": [0, 100], "nice": false}, "axis": {"values": [0, 20, 40, 60, 80, 100], "title": ["Cell culture supernatant", "VEGFA ng/mL"], "labelFontSize": 10.5}},
           "y2": {"field": "upper"}
         }},
        {"mark": {"type": "tick", "color": "#2a2a2a", "thickness": 1.3, "size": 10, "opacity": 1},
         "encoding": {
           "x": {"field": "group", "type": "nominal", "scale": {"domain": ["Mimics NC", "miR-93-5p mimics", "Inhibitor NC", "miR-93-5p inhibitor"], "range": [0, 127], "paddingInner": 0.31, "paddingOuter": 0.09}, "axis": {"title": null, "labelAngle": -45, "labelFontSize": 10.5, "labelPadding": 1}},
           "y": {"field": "upper", "type": "quantitative", "scale": {"domain": [0, 100], "nice": false}, "axis": {"values": [0, 20, 40, 60, 80, 100], "title": ["Cell culture supernatant", "VEGFA ng/mL"], "labelFontSize": 10.5}}
         }},
        {"data": {"name": "G_sig"}, "mark": {"type": "rule", "color": "#000", "strokeWidth": 1},
         "encoding": {
           "x": {"field": "from", "type": "nominal", "scale": {"domain": ["Mimics NC", "miR-93-5p mimics", "Inhibitor NC", "miR-93-5p inhibitor"], "range": [0, 127], "paddingInner": 0.31, "paddingOuter": 0.09}, "axis": {"title": null, "labelAngle": -45, "labelFontSize": 10.5, "labelPadding": 1}},
           "x2": {"field": "to"},
           "y": {"field": "y", "type": "quantitative", "scale": {"domain": [0, 100], "nice": false}, "axis": {"values": [0, 20, 40, 60, 80, 100], "title": ["Cell culture supernatant", "VEGFA ng/mL"], "labelFontSize": 10.5}}
         }},
        {"data": {"name": "G_sig"}, "mark": {"type": "text", "fontSize": 10, "baseline": "alphabetic", "dy": 3, "dx": 16.4, "color": "#000"},
         "encoding": {
           "x": {"field": "from", "type": "nominal", "scale": {"domain": ["Mimics NC", "miR-93-5p mimics", "Inhibitor NC", "miR-93-5p inhibitor"], "range": [0, 127], "paddingInner": 0.31, "paddingOuter": 0.09}, "axis": {"title": null, "labelAngle": -45, "labelFontSize": 10.5, "labelPadding": 1}},
           "y": {"field": "y", "type": "quantitative", "scale": {"domain": [0, 100], "nice": false}, "axis": {"values": [0, 20, 40, 60, 80, 100], "title": ["Cell culture supernatant", "VEGFA ng/mL"], "labelFontSize": 10.5}},
           "text": {"field": "label"}
         }}
      ]
    },
    {"width": 138, "height": 1, "data": {"values": [{}]}, "mark": {"type": "point", "opacity": 0}, "encoding": {}}
  ]
}
